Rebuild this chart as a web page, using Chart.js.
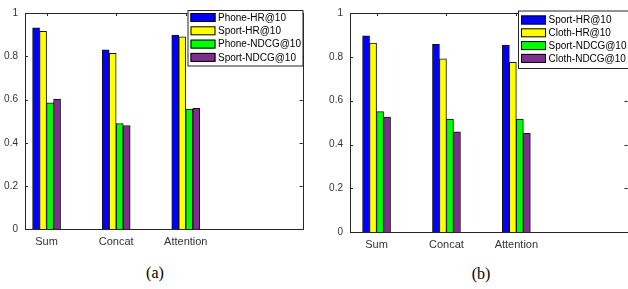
<!DOCTYPE html>
<html>
<head>
<meta charset="utf-8">
<script src="https://cdn.jsdelivr.net/npm/chart.js@4"></script>
<style>
  body { margin: 0; width: 628px; height: 289px; background: #fff; position: relative; overflow: hidden; }
  canvas { position: absolute; top: 0; }
  #chartA { left: 0; }
  #chartB { left: 314px; }
  .cap { position: absolute; transform: translate(-50%, -50%); font-family: "Liberation Serif", "Times New Roman", serif; font-size: 16px; color: #000; white-space: nowrap; }
</style>
</head>
<body>
<canvas id="chartA" width="314" height="255"></canvas>
<canvas id="chartB" width="314" height="255"></canvas>
<div class="cap" style="left:155px; top:273px;">(a)</div>
<div class="cap" style="left:481px; top:274px;">(b)</div>
<script>
// categories and tick labels
const categories = ['Sum', 'Concat', 'Attention'];
const yTicks = [0, 0.2, 0.4, 0.6, 0.8, 1];

// panel (a)
const labelsA = ['Phone-HR@10', 'Sport-HR@10', 'Phone-NDCG@10', 'Sport-NDCG@10'];
const phoneHrA = [0.932, 0.830, 0.898];
const sportHrA = [0.915, 0.813, 0.890];
const phoneNdcgA = [0.585, 0.489, 0.556];
const sportNdcgA = [0.602, 0.480, 0.559];

// panel (b)
const labelsB = ['Sport-HR@10', 'Cloth-HR@10', 'Sport-NDCG@10', 'Cloth-NDCG@10'];
const sportHrB = [0.896, 0.857, 0.854];
const clothHrB = [0.863, 0.791, 0.775];
const sportNdcgB = [0.550, 0.516, 0.516];
const clothNdcgB = [0.525, 0.458, 0.451];

const barColors = ['#0000ff', '#ffff00', '#00ff00', '#7e2f8e'];
const axisColor = '#262626';
const textColor = '#333';
const fontFamily = '"Liberation Sans", Arial, sans-serif';

// box around the plot area, with inward ticks (MATLAB look)
const boxPlugin = {
    id: 'box',
    beforeDatasetsDraw(chart) {
        const { ctx, chartArea: a, scales: { x, y } } = chart;
        ctx.save();
        ctx.strokeStyle = axisColor;
        ctx.lineWidth = 1;
        ctx.beginPath();
        y.ticks.forEach(t => {
            const py = Math.round(y.getPixelForValue(t.value)) + 0.5;
            ctx.moveTo(a.left, py); ctx.lineTo(a.left + 3, py);
            ctx.moveTo(a.right, py); ctx.lineTo(a.right - 3, py);
        });
        x.ticks.forEach(t => {
            const px = Math.round(x.getPixelForValue(t.value)) + 0.5;
            ctx.moveTo(px, a.top); ctx.lineTo(px, a.top + 3);
            ctx.moveTo(px, a.bottom); ctx.lineTo(px, a.bottom - 3);
        });
        ctx.stroke();
        ctx.restore();
    },
    afterDatasetsDraw(chart) {
        const { ctx, chartArea: a } = chart;
        ctx.save();
        ctx.strokeStyle = axisColor;
        ctx.lineWidth = 1;
        ctx.strokeRect(Math.round(a.left) + 0.5, Math.round(a.top) + 0.5,
            Math.round(a.right - a.left), Math.round(a.bottom - a.top));
        ctx.restore();
    }
};

// legend box in the top right corner
const boxLegendPlugin = {
    id: 'boxLegend',
    afterDraw(chart, args, opts) {
        const ctx = chart.ctx;
        ctx.save();
        ctx.fillStyle = '#fff';
        ctx.fillRect(opts.left, opts.top, opts.width, opts.height);
        ctx.strokeStyle = axisColor;
        ctx.lineWidth = 1;
        ctx.strokeRect(opts.left + 0.5, opts.top + 0.5, opts.width, opts.height);
        ctx.font = '10px ' + fontFamily;
        ctx.textBaseline = 'middle';
        chart.data.datasets.forEach((ds, i) => {
            const cy = opts.rowStart + i * opts.rowGap;
            ctx.fillStyle = ds.backgroundColor;
            ctx.fillRect(opts.left + 3, cy - 4.5, 25, 9);
            ctx.strokeStyle = '#000';
            ctx.strokeRect(opts.left + 3.5, cy - 4, 24, 8);
            ctx.fillStyle = '#000';
            ctx.fillText(ds.label, opts.left + 30.5, cy + 0.5);
        });
        ctx.restore();
    }
};

function makeChart(id, labels, series, cfg) {
    const datasets = series.map((values, i) => ({
        label: labels[i],
        data: values.map((v, j) => ({ x: j + 1, y: v })),
        backgroundColor: barColors[i],
        borderColor: '#111',
        borderWidth: 1,
        barThickness: 7
    }));

    new Chart(document.getElementById(id), {
        type: 'bar',
        data: { datasets },
        options: {
            responsive: false,
            animation: false,
            events: [],
            layout: { padding: cfg.padding },
            plugins: {
                legend: { display: false },
                tooltip: { enabled: false },
                boxLegend: cfg.legend
            },
            scales: {
                x: {
                    type: 'linear',
                    offset: false,
                    min: cfg.xMin,
                    max: cfg.xMax,
                    afterBuildTicks: s => { s.ticks = categories.map((c, i) => ({ value: i + 1 })); },
                    afterFit: s => { s.height = cfg.xHeight; },
                    grid: { display: false, drawTicks: false },
                    border: { display: false },
                    ticks: {
                        autoSkip: false,
                        maxRotation: 0,
                        padding: 6,
                        color: textColor,
                        font: { family: fontFamily, size: 11 },
                        callback: v => categories[Math.round(v) - 1]
                    }
                },
                y: {
                    min: 0,
                    max: 1,
                    afterBuildTicks: s => { s.ticks = yTicks.map(v => ({ value: v })); },
                    afterFit: s => { s.width = cfg.yWidth; },
                    grid: { display: false, drawTicks: false },
                    border: { display: false },
                    ticks: {
                        padding: 7,
                        color: textColor,
                        font: { family: fontFamily, size: 10 },
                        callback: v => String(v)
                    }
                }
            }
        },
        plugins: [boxPlugin, boxLegendPlugin]
    });
}

makeChart('chartA', labelsA, [phoneHrA, sportHrA, phoneNdcgA, sportNdcgA], {
    xMin: 0.69, xMax: 4.68,
    yWidth: 25, xHeight: 25.7,
    padding: { top: 10, right: 11.3, left: 0, bottom: 0 },
    legend: { left: 187.5, top: 10, width: 115, height: 55.5, rowStart: 17.5, rowGap: 13.3 }
});

makeChart('chartB', labelsB, [sportHrB, clothHrB, sportNdcgB, clothNdcgB], {
    xMin: 0.62, xMax: 4.59,
    yWidth: 36, xHeight: 22.7,
    padding: { top: 10.7, right: 0.5, left: 0, bottom: 0 },
    legend: { left: 204, top: 10.5, width: 120, height: 57.5, rowStart: 20, rowGap: 12.8 }
});
</script>
</body>
</html>
